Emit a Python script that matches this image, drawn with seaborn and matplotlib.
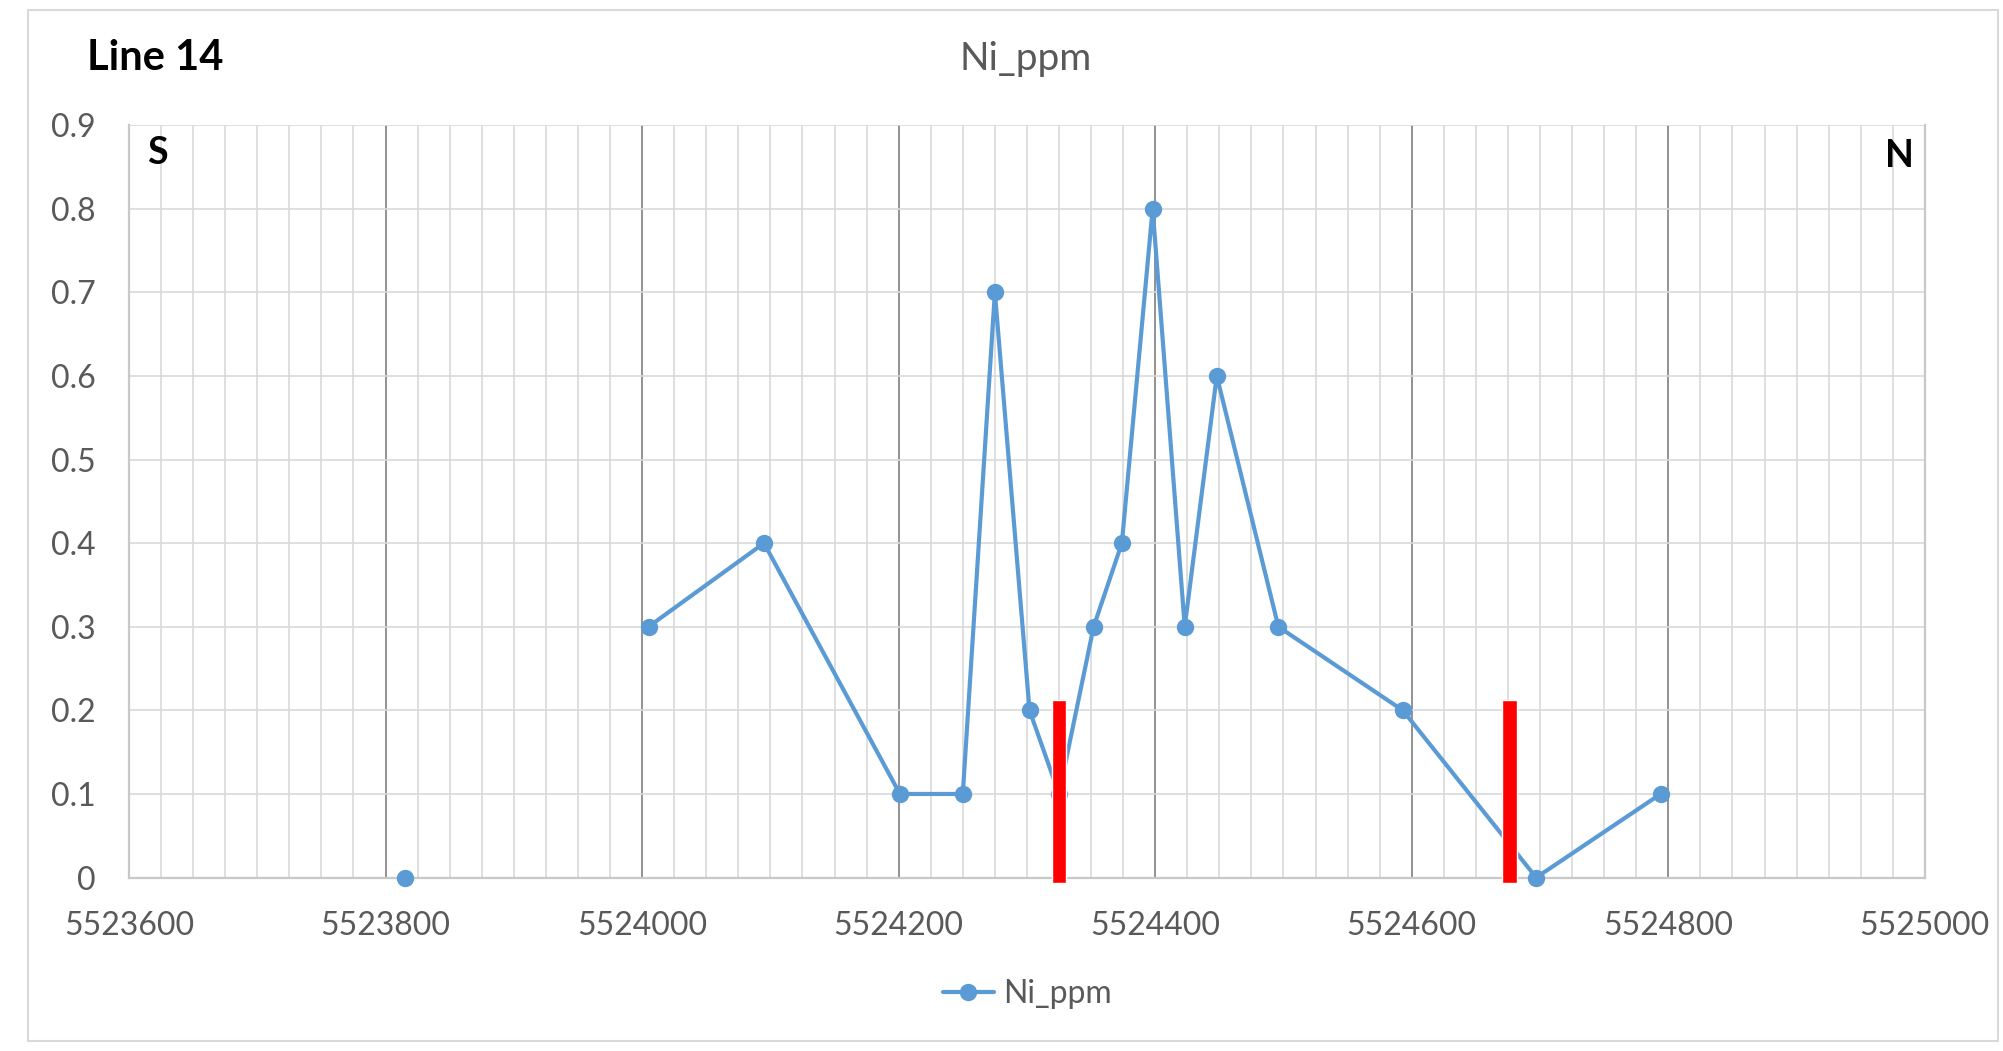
import numpy as np
import pandas as pd
import matplotlib
matplotlib.use("Agg")
import matplotlib.pyplot as plt
from matplotlib.ticker import MultipleLocator, FuncFormatter
from matplotlib.lines import Line2D
from matplotlib.patches import Rectangle
import seaborn as sns

# Line 14 sample data (northing vs Ni ppm); NaN marks a gap in the series
northing = [5523815, np.nan, 5524005, 5524095, 5524201, 5524250, 5524275, 5524302,
            5524325, 5524352, 5524374, 5524398, 5524423, 5524448, 5524496,
            5524593, 5524697, 5524794]
ni_ppm = [0.0, np.nan, 0.3, 0.4, 0.1, 0.1, 0.7, 0.2,
          0.1, 0.3, 0.4, 0.8, 0.3, 0.6, 0.3,
          0.2, 0.0, 0.1]

# red markers (contacts)
marker_x = [5524325, 5524676]
marker_top = [0.212, 0.212]
marker_bottom = [-0.006, -0.006]

x_ticks = [5523600, 5523800, 5524000, 5524200, 5524400, 5524600, 5524800, 5525000]

BLUE = "#5B9BD5"
GRAY_TXT = "#595959"
FONT = ["Lato", "DejaVu Sans"]

sns.set_style("white")
plt.rcParams["font.family"] = FONT

df = pd.DataFrame({"northing": northing, "ni": ni_ppm})
df["seg"] = df["ni"].isna().cumsum()
df = df.dropna()

fig = plt.figure(figsize=(20.03, 10.51), dpi=100)
ax = fig.add_axes([0.0644, 0.165, 0.8966, 0.716])

sns.lineplot(data=df, x="northing", y="ni", units="seg", estimator=None,
             color=BLUE, linewidth=3.0, marker="o", markersize=12.5,
             markeredgewidth=0, clip_on=False, zorder=4, ax=ax)

heights = [t - b for t, b in zip(marker_top, marker_bottom)]
ax.bar(marker_x, heights, bottom=marker_bottom, width=11.5, color="#FF0000",
       clip_on=False, zorder=5)

ax.set_xlim(x_ticks[0], x_ticks[-1])
ax.set_ylim(0, 0.9)
ax.set_xticks(x_ticks)
ax.xaxis.set_minor_locator(MultipleLocator(25))
ax.yaxis.set_major_locator(MultipleLocator(0.1))
ax.yaxis.set_major_formatter(FuncFormatter(lambda v, p: f"{v:g}"))
ax.xaxis.set_major_formatter(FuncFormatter(lambda v, p: f"{int(round(v))}"))

ax.set_axisbelow(True)
ax.grid(which="minor", axis="x", color="#d9d9d9", linewidth=1.2)
ax.grid(which="major", axis="x", color="#7f7f7f", linewidth=1.2)
ax.grid(which="major", axis="y", color="#d9d9d9", linewidth=1.2)

for s in ["left", "bottom", "right"]:
    ax.spines[s].set_color("#c8c8c8")
    ax.spines[s].set_linewidth(1.6)
ax.spines["top"].set_visible(False)

ax.tick_params(axis="x", which="both", direction="in", length=6, color="#bfbfbf",
               labelsize=23, labelcolor=GRAY_TXT, pad=24)
ax.tick_params(axis="y", which="both", length=0, labelsize=23,
               labelcolor=GRAY_TXT, pad=24)
ax.set_xlabel("")
ax.set_ylabel("")

ax.text(0.0156, 0.963, "S", transform=ax.transAxes, ha="center", va="center",
        fontsize=27, fontweight="bold", color="black")
ax.text(0.9858, 0.959, "N", transform=ax.transAxes, ha="center", va="center",
        fontsize=27, fontweight="bold", color="black")

fig.text(0.512, 0.944, "Ni_ppm", ha="center", va="center", fontsize=28,
         color=GRAY_TXT)
fig.text(0.0434, 0.945, "Line 14", ha="left", va="center", fontsize=30,
         fontweight="bold", color="black")

handle = Line2D([], [], color=BLUE, linewidth=3.0, marker="o", markersize=12.5,
                markeredgewidth=0)
ax.legend([handle], ["Ni_ppm"], loc="center", bbox_to_anchor=(0.513, 0.054),
          bbox_transform=fig.transFigure, frameon=False, fontsize=23,
          labelcolor=GRAY_TXT, handlelength=1.6, handletextpad=0.3)

fig.add_artist(Rectangle((28 / 2003, 10 / 1051), 1970 / 2003, 1031 / 1051,
                         transform=fig.transFigure, fill=False,
                         edgecolor="#d9d9d9", linewidth=1.5))

fig.savefig("out.png", dpi=100, facecolor="white")
